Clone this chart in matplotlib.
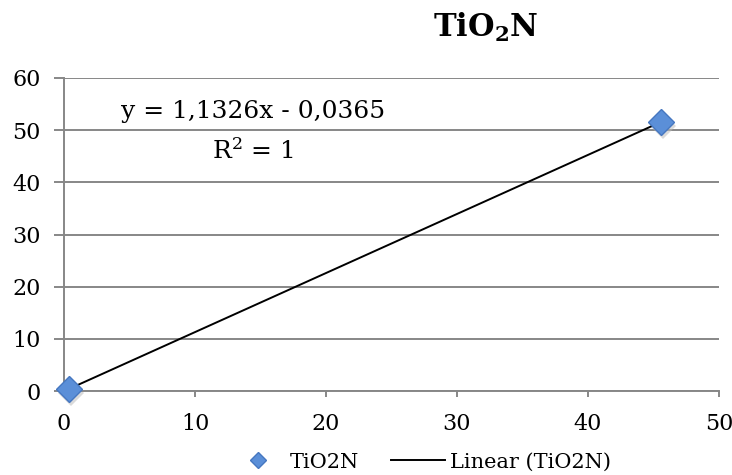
import numpy as np
import matplotlib
matplotlib.use("Agg")
import matplotlib.pyplot as plt
from matplotlib.lines import Line2D

plt.rcParams['font.family'] = ['DejaVu Serif']
plt.rcParams['mathtext.fontset'] = 'dejavuserif'

# measured concentrations
x_vals = [0.4, 45.6]
y_vals = [0.42, 51.6]
series_name = "TiO2N"
trend_name = "Linear (TiO2N)"
x_ticks = [0, 10, 20, 30, 40, 50]
y_ticks = [0, 10, 20, 30, 40, 50, 60]

W, H = 732, 475
fig = plt.figure(figsize=(W / 100, H / 100), dpi=100)
ax = fig.add_axes([64 / W, 1 - 391 / H, (719 - 64) / W, (391 - 78) / H])

grid_c = '#878787'
face_c = '#5b8fd8'
edge_c = '#4677c0'

ax.set_xlim(0, 50)
ax.set_ylim(0, 60)
ax.set_xticks(x_ticks)
ax.set_yticks(y_ticks)
ax.yaxis.grid(True, color=grid_c, lw=1.4)
ax.set_axisbelow(True)
for s in ['top', 'right']:
    ax.spines[s].set_visible(False)
for s in ['left', 'bottom']:
    ax.spines[s].set_color(grid_c)
    ax.spines[s].set_linewidth(1.4)
ax.tick_params(axis='both', colors=grid_c, labelcolor='black', labelsize=16,
               width=1.4, direction='out')
ax.tick_params(axis='y', length=7, pad=10)
ax.tick_params(axis='x', length=4, pad=12)

# linear trendline from least-squares fit
coef = np.polyfit(x_vals, y_vals, 1)
xs = np.array([min(x_vals), max(x_vals)])
ax.plot(xs, np.polyval(coef, xs), color='black', lw=1.4, zorder=3)

# soft drop shadow under the markers
ax.plot(np.array(x_vals) + 0.12, np.array(y_vals) - 0.8, linestyle='none',
        marker='D', markersize=13, color='#bdbdbd', alpha=0.55,
        markeredgewidth=0, zorder=2, clip_on=False)
ax.plot(x_vals, y_vals, linestyle='none', marker='D', markersize=13,
        markerfacecolor=face_c, markeredgecolor=edge_c,
        markeredgewidth=1, zorder=4, clip_on=False)

eq = "y = 1,1326x - 0,0365"
ax.text(14.4, 53.6, eq, fontsize=18, ha='center', va='center')
ax.text(14.4, 46.0, r"R$^2$ = 1", fontsize=18, ha='center', va='center')

fig.text(486 / W, 1 - 27 / H, r"$\mathbf{TiO_2N}$", fontsize=22,
         ha='center', va='center')

handles = [Line2D([], [], linestyle='none', marker='D', markersize=8,
                  markerfacecolor=face_c, markeredgecolor=edge_c),
           Line2D([], [], color='black', lw=1.4)]
fig.legend(handles, [series_name, trend_name], loc='center',
           bbox_to_anchor=(421 / W, 1 - 462 / H), ncol=2, frameon=False,
           fontsize=15, handlelength=2.6, columnspacing=1.5,
           handletextpad=0.25, borderpad=0, borderaxespad=0)

fig.savefig('out.png', dpi=100)
